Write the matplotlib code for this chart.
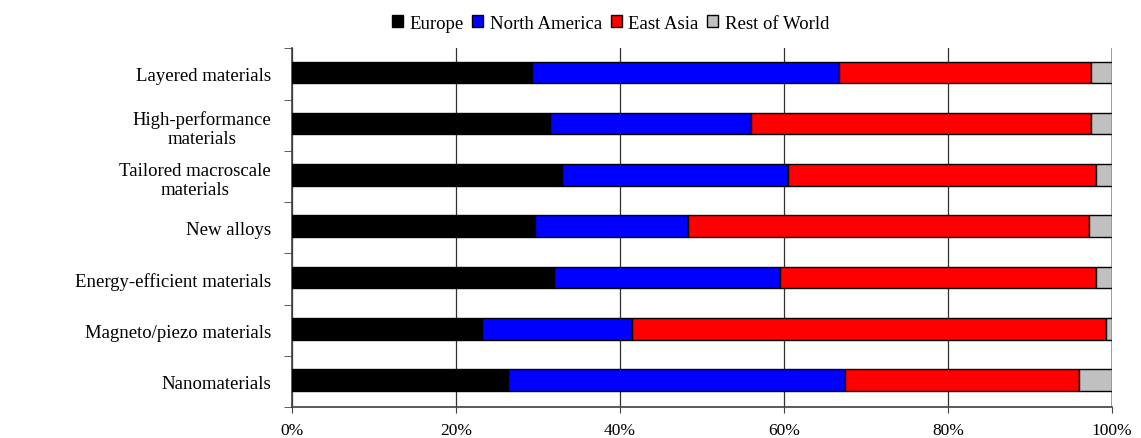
import matplotlib
matplotlib.use("Agg")
import matplotlib.pyplot as plt
import numpy as np
from matplotlib.patches import Patch

categories = ["Layered materials", "High-performance\nmaterials", "Tailored macroscale\nmaterials",
              "New alloys", "Energy-efficient materials", "Magneto/piezo materials", "Nanomaterials"]
regions = ["Europe", "North America", "East Asia", "Rest of World"]
colors = ["#000000", "#0000ff", "#ff0000", "#c0c0c0"]

# shares in percent
europe = [29.3, 31.5, 32.9, 29.6, 32.0, 23.2, 26.3]
north_america = [37.4, 24.5, 27.6, 18.7, 27.5, 18.3, 41.1]
east_asia = [30.7, 41.4, 37.6, 48.9, 38.6, 57.8, 28.6]
rest_world = [2.6, 2.6, 1.9, 2.8, 1.9, 0.7, 4.0]
xticks = [0, 20, 40, 60, 80, 100]

plt.rcParams["font.family"] = ["Liberation Serif", "DejaVu Serif"]

fig = plt.figure(figsize=(11.41, 4.39), dpi=100)
ax = fig.add_axes([0.2559, 0.0699, 0.7187, 0.8178])

n = len(categories)
y = np.arange(n)[::-1] + 0.03
left = np.zeros(n)
for vals, col, lab in zip([europe, north_america, east_asia, rest_world], colors, regions):
    ax.barh(y, vals, left=left, height=0.42, color=col, edgecolor="black", linewidth=1.0,
            label=lab, zorder=3)
    left += np.array(vals)

ax.set_xlim(0, 100)
ax.set_ylim(-0.5, n - 0.5)
ax.set_xticks(xticks)
ax.set_xticklabels([f"{t}%" for t in xticks], fontsize=12.5)
ax.set_yticks(np.arange(n)[::-1])
ax.set_yticklabels(categories, fontsize=13.5)
for t in ax.get_yticklabels():
    t.set_multialignment("center")
    t.set_linespacing(1.2)
ax.set_yticks(np.arange(n + 1) - 0.5, minor=True)
ax.tick_params(axis="y", which="major", length=0, pad=15)
ax.tick_params(axis="y", which="minor", length=6, color="#404040", direction="out")
ax.tick_params(axis="x", length=4.5, color="#404040", pad=6)

ax.grid(axis="x", color="#303030", lw=0.9, zorder=0)
ax.axvline(100, color="#a0a0a0", lw=1.2, zorder=1)
for s in ["top", "right"]:
    ax.spines[s].set_visible(False)
for s in ["left", "bottom"]:
    ax.spines[s].set_color("#404040")
    ax.spines[s].set_linewidth(1.2)

handles = [Patch(facecolor=c, edgecolor="black", label=r) for c, r in zip(colors, regions)]
fig.legend(handles=handles, loc="center", bbox_to_anchor=(0.535, 0.945), ncol=4, frameon=False,
           fontsize=13.5, handlelength=0.6, handleheight=0.6, handletextpad=0.35, columnspacing=0.45)

fig.savefig("out.png", dpi=100)
